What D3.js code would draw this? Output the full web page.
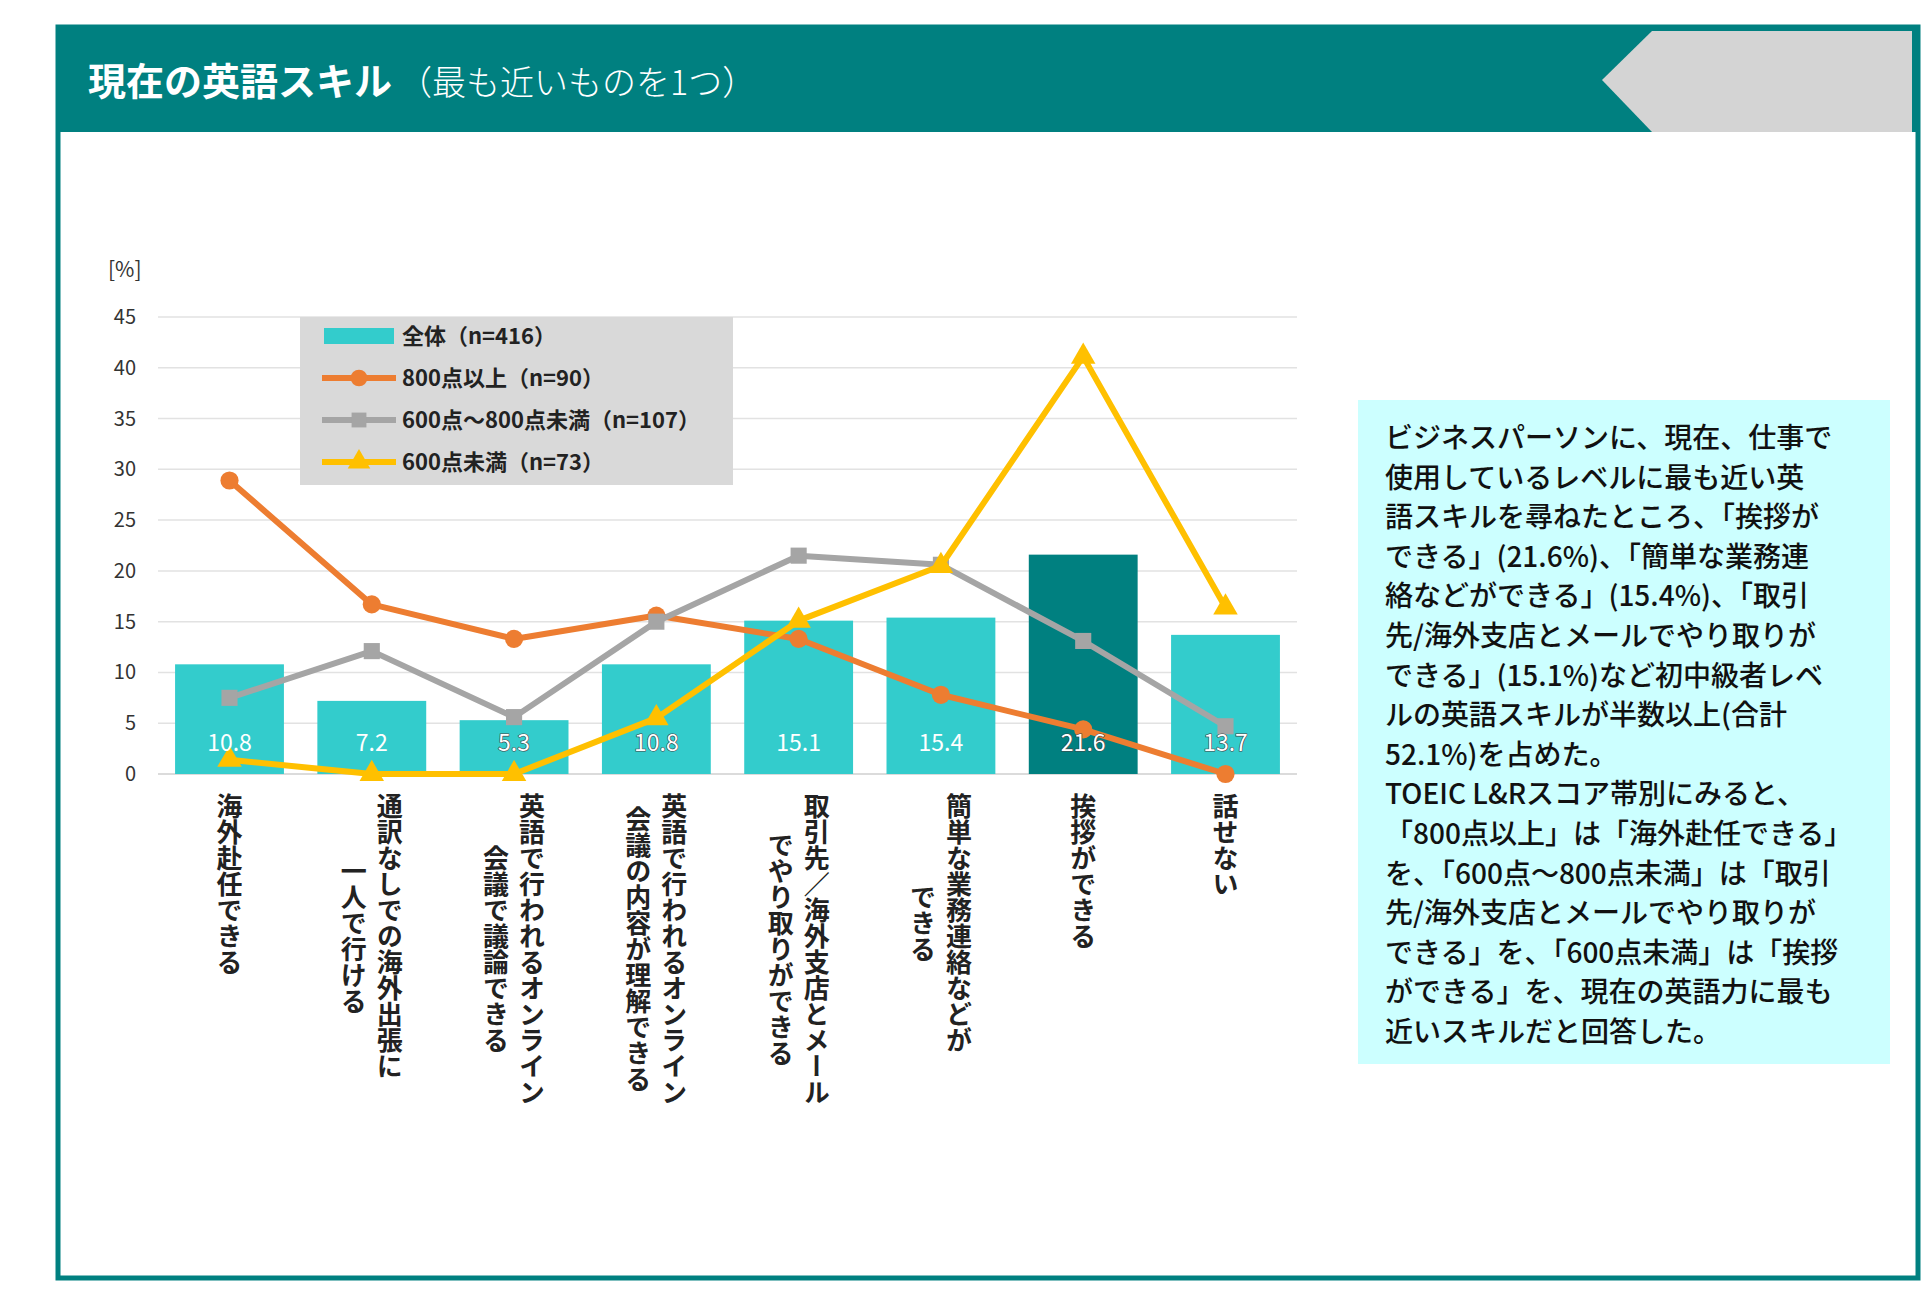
<!DOCTYPE html>
<html><head><meta charset="utf-8">
<script src="https://cdn.jsdelivr.net/npm/d3@7"></script>
<style>
body{margin:0;background:#fff;font-family:"Noto Sans CJK JP","Noto Sans",sans-serif;}
</style></head>
<body><svg id="c" width="1930" height="1310"></svg>
<script>
// ── Data ─────────────────────────────────────────────
const categories = [
  ["海外赴任できる"],
  ["通訳なしでの海外出張に","一人で行ける"],
  ["英語で行われるオンライン","会議で議論できる"],
  ["英語で行われるオンライン","会議の内容が理解できる"],
  ["取引先／海外支店とメール","でやり取りができる"],
  ["簡単な業務連絡などが","できる"],
  ["挨拶ができる"],
  ["話せない"]
];
const totalVals = [10.8, 7.2, 5.3, 10.8, 15.1, 15.4, 21.6, 13.7];
const over800   = [28.9, 16.7, 13.3, 15.6, 13.3, 7.8, 4.4, 0];
const mid600    = [7.5, 12.1, 5.6, 15.0, 21.5, 20.6, 13.1, 4.7];
const under600  = [1.4, 0, 0, 5.5, 15.1, 20.5, 41.1, 16.4];
const yTicks    = [0, 5, 10, 15, 20, 25, 30, 35, 40, 45];
const legendLabels = ["全体（n=416）","800点以上（n=90）","600点～800点未満（n=107）","600点未満（n=73）"];
const noteLines = [
  "ビジネスパーソンに、現在、仕事で",
  "使用しているレベルに最も近い英",
  "語スキルを尋ねたところ、「挨拶が",
  "できる」(21.6%)、「簡単な業務連",
  "絡などができる」(15.4%)、「取引",
  "先/海外支店とメールでやり取りが",
  "できる」(15.1%)など初中級者レベ",
  "ルの英語スキルが半数以上(合計",
  "52.1%)を占めた。",
  "TOEIC L&Rスコア帯別にみると、",
  "「800点以上」は「海外赴任できる」",
  "を、「600点～800点未満」は「取引",
  "先/海外支店とメールでやり取りが",
  "できる」を、「600点未満」は「挨拶",
  "ができる」を、現在の英語力に最も",
  "近いスキルだと回答した。"
];

const TEAL = "#008080", BAR = "#33CCCC";
const svg = d3.select("#c");

// ── Frame & header ───────────────────────────────────
svg.append("rect").attr("x",58).attr("y",27).attr("width",1860).attr("height",1251)
  .attr("fill","none").attr("stroke",TEAL).attr("stroke-width",5);
svg.append("rect").attr("x",56).attr("y",25).attr("width",1864).attr("height",107).attr("fill",TEAL);
svg.append("polygon").attr("points","1652,31 1912,31 1912,132 1652,132 1602,80").attr("fill","#d4d4d4");
const title = svg.append("text").attr("x",88).attr("y",95).attr("fill","#fff");
title.append("tspan").attr("font-size",38).attr("font-weight",700).text("現在の英語スキル");
title.append("tspan").attr("font-size",34).attr("font-weight",300).attr("dx",6).text("（最も近いものを1つ）");

// ── Scales ───────────────────────────────────────────
const x = d3.scaleBand().domain(d3.range(categories.length)).range([158,1297]).paddingInner(0.235).paddingOuter(0.12);
const y = d3.scaleLinear().domain([0,45]).range([774,317]);
const cx = i => x(i) + x.bandwidth()/2;

svg.append("g").selectAll("line").data(yTicks).join("line")
  .attr("x1",158).attr("x2",1297).attr("y1",d=>y(d)).attr("y2",d=>y(d))
  .attr("stroke",d=>d===0?"#cfcfcf":"#e2e2e2").attr("stroke-width",1.5);
svg.append("g").selectAll("text").data(yTicks).join("text")
  .attr("x",136).attr("y",d=>y(d)+7).attr("text-anchor","end")
  .attr("font-size",20).attr("fill","#333").text(d=>d);
svg.append("text").attr("x",108).attr("y",277).attr("font-size",21).attr("fill","#333").text("[%]");

// ── Bars ─────────────────────────────────────────────
svg.append("g").selectAll("rect").data(totalVals).join("rect")
  .attr("x",(d,i)=>x(i)).attr("width",x.bandwidth())
  .attr("y",d=>y(d)).attr("height",d=>y(0)-y(d))
  .attr("fill",(d,i)=>d===d3.max(totalVals)?TEAL:BAR);

// ── Lines ────────────────────────────────────────────
const series = [
  {vals: over800, color:"#ED7D31", shape:d3.symbolCircle},
  {vals: mid600,  color:"#A5A5A5", shape:d3.symbolSquare},
  {vals: under600,color:"#FFC000", shape:d3.symbolTriangle}
];
const line = d3.line().x((d,i)=>cx(i)).y(d=>y(d));
series.forEach(s=>{
  svg.append("path").attr("d",line(s.vals)).attr("fill","none")
    .attr("stroke",s.color).attr("stroke-width",6).attr("stroke-linejoin","round");
  svg.append("g").selectAll("path").data(s.vals).join("path")
    .attr("transform",(d,i)=>`translate(${cx(i)},${y(d)})`)
    .attr("d",d3.symbol().type(s.shape).size(260)).attr("fill",s.color);
});

// bar value labels
svg.append("g").selectAll("text").data(totalVals).join("text")
  .attr("x",(d,i)=>cx(i)).attr("y",751).attr("text-anchor","middle")
  .attr("font-size",23).attr("fill","#fff")
  .attr("stroke",(d,i)=>[2,3,6,7].includes(i)?"#444":"none").attr("stroke-width",1.2)
  .attr("paint-order","stroke").text(d=>d.toFixed(1));

// ── Category labels (vertical) ───────────────────────
const FS = 26;
categories.forEach((lines,i)=>{
  const maxLen = d3.max(lines,l=>l.length);
  const midY = 793 + maxLen*FS/2;
  lines.forEach((l,j)=>{
    const off = (j - (lines.length-1)/2) * -36;
    svg.append("text").attr("x",cx(i)+off).attr("y",midY)
      .attr("text-anchor","middle").style("writing-mode","vertical-rl")
      .attr("font-size",FS).attr("font-weight",700).attr("fill","#222").text(l);
  });
});

// ── Legend ───────────────────────────────────────────
svg.append("rect").attr("x",300).attr("y",317).attr("width",433).attr("height",168).attr("fill","#d9d9d9");
const lg = svg.append("g").selectAll("g").data(legendLabels).join("g")
  .attr("transform",(d,i)=>`translate(0,${336+i*42})`);
lg.each(function(d,i){
  const g = d3.select(this);
  if(i===0){
    g.append("rect").attr("x",324).attr("y",-8).attr("width",70).attr("height",16).attr("fill",BAR);
  } else {
    const s = series[i-1];
    g.append("line").attr("x1",322).attr("x2",396).attr("stroke",s.color).attr("stroke-width",6);
    g.append("path").attr("transform","translate(359,0)")
      .attr("d",d3.symbol().type(s.shape).size(220)).attr("fill",s.color);
  }
  g.append("text").attr("x",402).attr("y",8).attr("font-size",22).attr("font-weight",700)
    .attr("fill","#222").text(d);
});

// ── Note box ─────────────────────────────────────────
svg.append("rect").attr("x",1358).attr("y",400).attr("width",532).attr("height",664).attr("fill","#CCFFFF");
svg.append("g").selectAll("text").data(noteLines).join("text")
  .attr("x",1385).attr("y",(d,i)=>448+i*39.6)
  .attr("font-size",28).attr("font-weight",500).attr("fill","#111").text(d=>d);
</script></body></html>
